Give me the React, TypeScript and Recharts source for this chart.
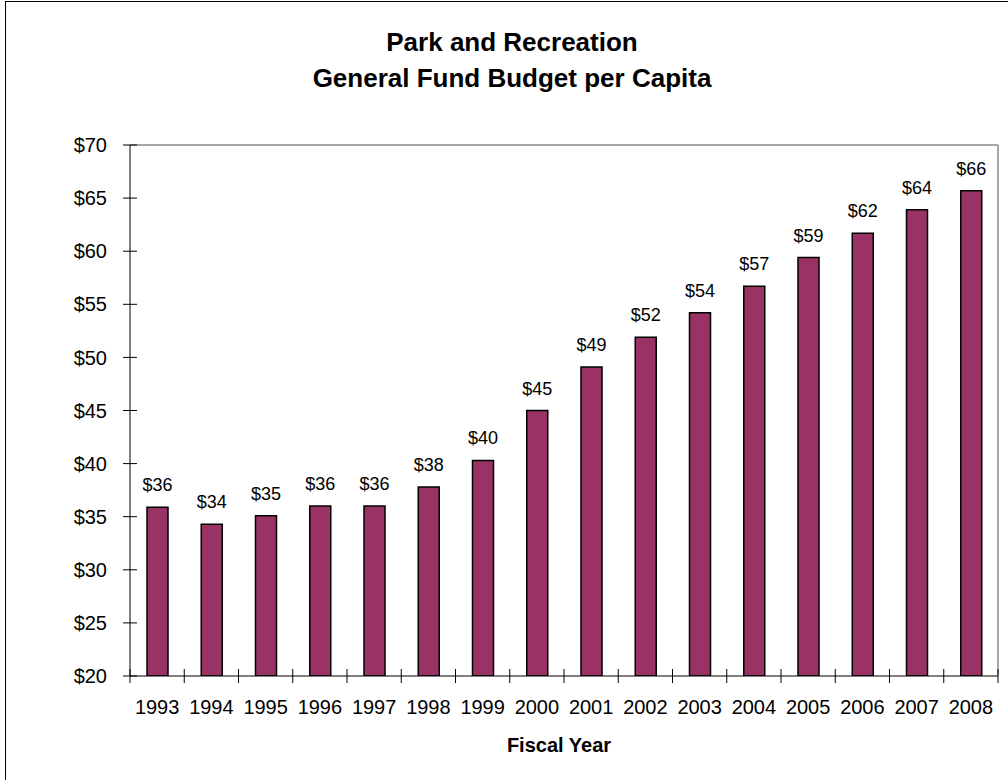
import { BarChart, Bar, XAxis, YAxis, LabelList } from "recharts";

const years = [
  "1993", "1994", "1995", "1996", "1997", "1998", "1999", "2000",
  "2001", "2002", "2003", "2004", "2005", "2006", "2007", "2008",
];
const budgetPerCapita = [
  35.9, 34.3, 35.1, 36.0, 36.0, 37.8, 40.3, 45.0,
  49.1, 51.9, 54.2, 56.7, 59.4, 61.7, 63.9, 65.7,
];
const yTicks = [20, 25, 30, 35, 40, 45, 50, 55, 60, 65, 70];

const data = years.map((year, i) => ({ year, value: budgetPerCapita[i] }));

const FONT = "'Liberation Sans', Arial, sans-serif";

// y ticks cross the axis line (Excel style)
function YTick(props: any) {
  const { x, y, payload } = props;
  const ax = x + 23;
  return (
    <g>
      <line x1={ax - 7} x2={ax + 7} y1={y} y2={y} stroke="#000" />
      <text x={x} y={y} dy="0.355em" textAnchor="end" fontSize={20} fill="#000" fontFamily={FONT}>
        ${payload.value}
      </text>
    </g>
  );
}

// x ticks sit between categories
function XTick(props: any) {
  const { x, y, payload, index, visibleTicksCount } = props;
  const ay = y - 24;
  const half = payload.offset ?? 27.1;
  return (
    <g>
      <line x1={x - half} x2={x - half} y1={ay - 7} y2={ay + 7} stroke="#000" />
      {index === visibleTicksCount - 1 && (
        <line x1={x + half} x2={x + half} y1={ay - 7} y2={ay + 7} stroke="#000" />
      )}
      <text x={x} y={y} dy="0.71em" textAnchor="middle" fontSize={20} fill="#000" fontFamily={FONT}>
        {payload.value}
      </text>
    </g>
  );
}

export default function App() {
  return (
    <div style={{ position: "relative", width: 1008, height: 780, background: "#fff", fontFamily: FONT }}>
      <style>{`body{margin:0;overflow:hidden}`}</style>
      <div
        style={{
          position: "absolute",
          left: 5,
          top: 1,
          width: 1020,
          height: 800,
          borderLeft: "1px solid #000",
          borderTop: "1px solid #000",
        }}
      />
      <div
        style={{
          position: "absolute",
          left: 12,
          top: 24,
          width: 1000,
          textAlign: "center",
          fontSize: 26,
          fontWeight: "bold",
          lineHeight: "36px",
          color: "#000",
        }}
      >
        Park and Recreation
        <br />
        General Fund Budget per Capita
      </div>
      <div style={{ position: "absolute", left: 0, top: 0 }}>
        <BarChart
          width={1008}
          height={780}
          data={data}
          margin={{ top: 144, right: 9, left: 50, bottom: 64 }}
        >
          <XAxis
            dataKey="year"
            interval={0}
            height={40}
            tickSize={0}
            tickMargin={24}
            tickLine={false}
            axisLine={{ stroke: "#000" }}
            tick={<XTick />}
          />
          <XAxis
            xAxisId="top"
            dataKey="year"
            orientation="top"
            height={1}
            tickSize={0}
            tick={false}
            tickLine={false}
            axisLine={{ stroke: "#a6a6a6", strokeWidth: 2 }}
          />
          <YAxis
            domain={[20, 70]}
            ticks={yTicks}
            width={80}
            tickSize={0}
            tickMargin={23}
            tickLine={false}
            axisLine={{ stroke: "#000" }}
            tick={<YTick />}
            allowDataOverflow
          />
          <YAxis
            yAxisId="right"
            orientation="right"
            domain={[20, 70]}
            width={1}
            tickSize={0}
            tick={false}
            tickLine={false}
            axisLine={{ stroke: "#a6a6a6", strokeWidth: 2 }}
          />
          <Bar dataKey="value" fill="#993366" stroke="#000" strokeWidth={1.5} barSize={21} isAnimationActive={false}>
            <LabelList
              dataKey="value"
              position="top"
              offset={16}
              fontSize={18}
              fill="#000"
              fontFamily={FONT}
              formatter={(v: any) => `$${Math.round(v)}`}
            />
          </Bar>
        </BarChart>
      </div>
      <div
        style={{
          position: "absolute",
          left: 459,
          top: 733,
          width: 200,
          textAlign: "center",
          fontSize: 20,
          fontWeight: "bold",
          lineHeight: "24px",
          color: "#000",
        }}
      >
        Fiscal Year
      </div>
    </div>
  );
}
